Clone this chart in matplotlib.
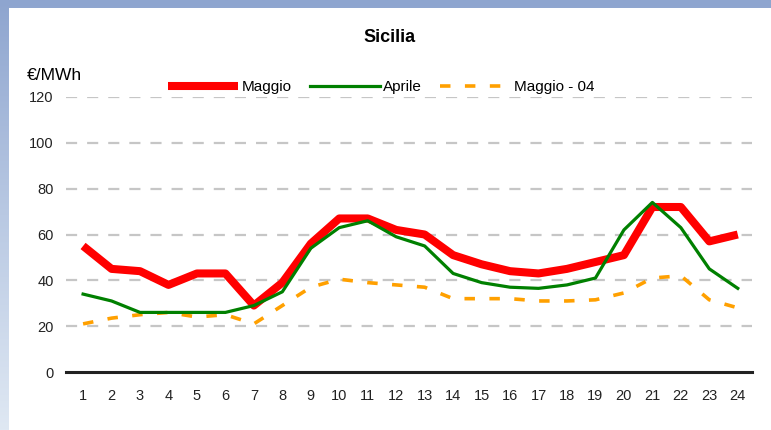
import numpy as np
import matplotlib
matplotlib.use("Agg")
import matplotlib.pyplot as plt
from matplotlib.patches import Rectangle

# ================= DATA =================
hours = list(range(1, 25))
maggio = [55, 45, 44, 38, 43, 43, 29, 39, 56, 67, 67, 62, 60, 51, 47, 44, 43, 45, 48, 51, 72, 72, 57, 60]
aprile = [34, 31, 26, 26, 26, 26, 29, 35, 54, 63, 66, 59, 55, 43, 39, 37, 36.5, 38, 41, 62, 74, 63, 45, 36.5]
maggio_04 = [21, 23.5, 25, 26, 24, 25, 21, 29, 37, 40.5, 39, 38, 37, 32, 32, 32, 31, 31, 31.5, 34.5, 41, 42, 31.5, 28]
y_ticks = [0, 20, 40, 60, 80, 100, 120]

plt.rcParams['font.family'] = ['Liberation Sans', 'DejaVu Sans']

fig = plt.figure(figsize=(7.71, 4.30), dpi=100)

# ================= BACKGROUND =================
bg = fig.add_axes([0, 0, 1, 1], zorder=-10)
grad = np.linspace(0, 1, 256).reshape(-1, 1)
bg.imshow(grad, aspect='auto', extent=[0, 1, 0, 1], origin='upper',
          cmap=matplotlib.colors.LinearSegmentedColormap.from_list('sky', ['#8ea5cf', '#b9c9e3', '#dfe8f3']))
bg.add_patch(Rectangle((9 / 771, 0), 1, 1 - 8 / 430, facecolor='white', edgecolor='none'))
bg.set_xlim(0, 1)
bg.set_ylim(0, 1)
bg.axis('off')

# ================= MAIN AXES =================
ax = fig.add_axes([66 / 771, 1 - 372 / 430, (752 - 66) / 771, 275 / 430])
ax.patch.set_alpha(0)

l1, = ax.plot(hours, maggio, color='#ff0000', lw=5.8, solid_capstyle='butt', zorder=3, label='Maggio')
l2, = ax.plot(hours, aprile, color='#008000', lw=2.3, zorder=4, label='Aprile')
l3, = ax.plot(hours, maggio_04, color='#ffa000', lw=2.6, dashes=(2.9, 4.0), zorder=2, label='Maggio - 04')

ax.set_xlim(0.4, 24.5)
ax.set_ylim(0, 120)
ax.set_xticks(hours)
ax.set_yticks(y_ticks)
ax.tick_params(axis='both', length=0, labelsize=10.5, colors='#222222')
ax.tick_params(axis='x', pad=12)
ax.tick_params(axis='y', pad=9)

for v in y_ticks[1:]:
    ax.axhline(v, color='#c6c6c6', lw=1.6, dashes=(5, 4.5), zorder=1)

for s in ['top', 'right', 'left']:
    ax.spines[s].set_visible(False)
ax.spines['bottom'].set_color('#222222')
ax.spines['bottom'].set_linewidth(2.2)

# ================= TEXTS =================
fig.text(390 / 771, 1 - 37 / 430, 'Sicilia', ha='center', va='center', fontsize=13, fontweight='bold')
fig.text(27 / 771, 1 - 75 / 430, '€/MWh', ha='left', va='center', fontsize=12.5)

leg = fig.legend(handles=[l1, l2, l3], loc='center', bbox_to_anchor=(381 / 771, 1 - 87 / 430),
                 ncol=3, frameon=True, fontsize=11, handlelength=4.6, handletextpad=0.2,
                 columnspacing=1.2, borderpad=0.2)
leg.get_frame().set_facecolor('white')
leg.get_frame().set_edgecolor('none')
leg.get_frame().set_alpha(1)

fig.savefig('out.png', dpi=100)
